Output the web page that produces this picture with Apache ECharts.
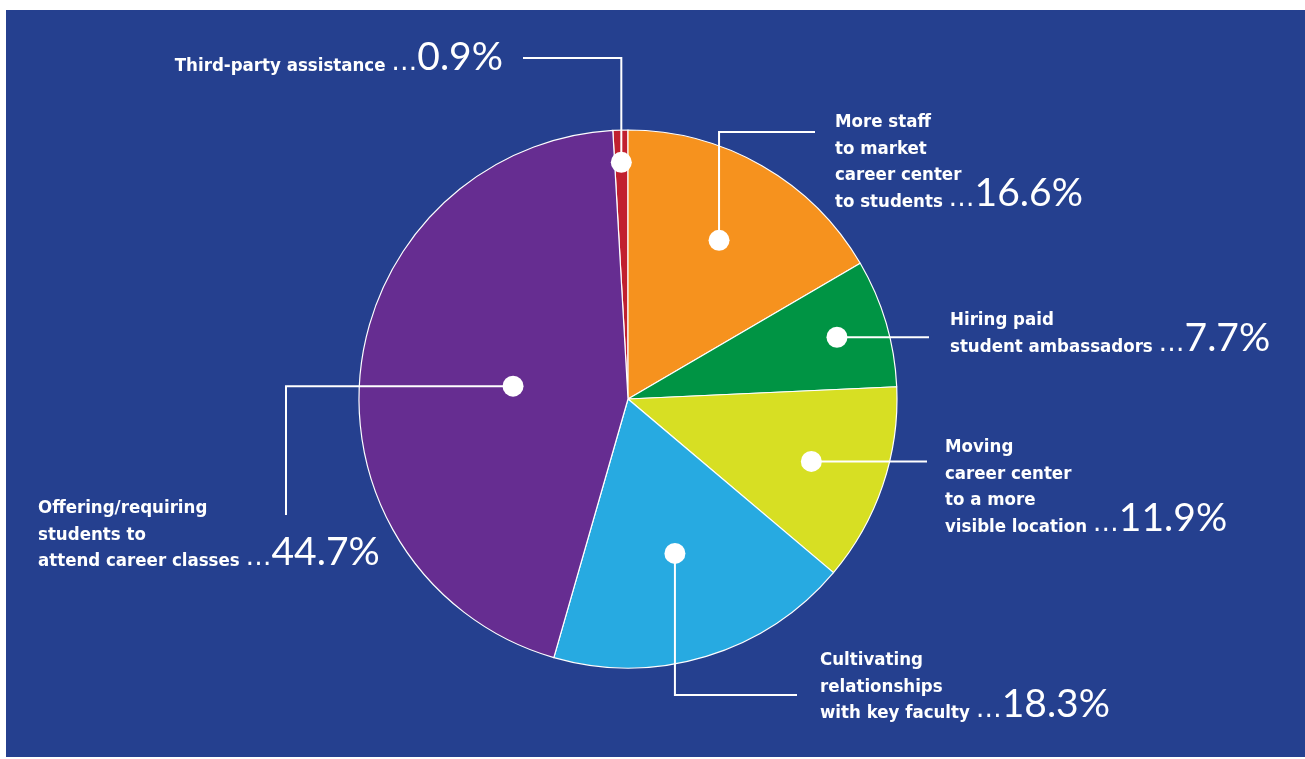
<!DOCTYPE html>
<html>
<head>
<meta charset="utf-8">
<script src="https://cdn.jsdelivr.net/npm/echarts@6/dist/echarts.min.js"></script>
<style>
  html, body { margin: 0; padding: 0; background: #ffffff; }
  #panel { position: absolute; left: 6px; top: 10px; width: 1299px; height: 747px; background: #25408f; }
  #chart { position: absolute; left: 0; top: 0; width: 1305px; height: 759px; }
</style>
</head>
<body>
<div id="panel"></div>
<div id="chart"></div>
<script>
// Survey answers, clockwise from the top of the pie
const categories = [
  'Third-party assistance',
  'More staff\nto market\ncareer center\nto students',
  'Hiring paid\nstudent ambassadors',
  'Moving\ncareer center\nto a more\nvisible location',
  'Cultivating\nrelationships\nwith key faculty',
  'Offering/requiring\nstudents to\nattend career classes'
];
const shares = [0.9, 16.6, 7.7, 11.9, 18.3, 44.7];
const sliceColors = ['#c1202f', '#f6921e', '#009444', '#d7df23', '#27aae1', '#662d91'];

// Layout
const PIE_CENTER = [628, 399];
const PIE_RADIUS = 269;
const total = shares.reduce((a, b) => a + b, 0);
// first slice sits just left of 12 o'clock, the second one starts exactly at 12 o'clock
const START_ANGLE = 90 + shares[0] / total * 360;
// how far out (fraction of the radius) each slice's marker dot sits
const dotRadius = [0.88, 0.68, 0.81, 0.72, 0.60, 0.43];
const labelBoxes = [
  { x: 503, y: 53, align: 'right' },
  { x: 835, y: 109, align: 'left' },
  { x: 950, y: 307, align: 'left' },
  { x: 945, y: 434, align: 'left' },
  { x: 820, y: 647, align: 'left' },
  { x: 38, y: 495, align: 'left' }
];
// leader routes: 'v' = vertical to y then across to endX, 'h' = straight across to endX,
// 'hv' = across to x then down to endY
const leaderRoutes = [
  { via: 'v', y: 58, endX: 523 },
  { via: 'v', y: 132, endX: 815 },
  { via: 'h', endX: 929 },
  { via: 'h', endX: 927 },
  { via: 'v', y: 695, endX: 797 },
  { via: 'hv', x: 286, endY: 515 }
];

const midValues = [];
(function () {
  let c = 0;
  shares.forEach(v => { midValues.push(c + v / 2); c += v; });
})();

// pick a narrow bold face for the answer text when one is available
function hasFont(name) {
  const ctx = document.createElement('canvas').getContext('2d');
  const s = 'Offering/requiring students abcxyz 0123';
  ctx.font = 'bold 40px monospace';
  const w0 = ctx.measureText(s).width;
  ctx.font = 'bold 40px "' + name + '", monospace';
  return ctx.measureText(s).width !== w0;
}
const narrow = hasFont('Liberation Sans Narrow');
const NAME_FONT = narrow ? '"Liberation Sans Narrow", sans-serif' : '"DejaVu Sans Condensed", "DejaVu Sans", sans-serif';
const NAME_SIZE = narrow ? 22.5 : 18.5;
const NAME_SHIFT = narrow ? -1 : 0;
const PCT_FONT = 'Lato, "Open Sans", "Noto Sans", sans-serif';

const chart = echarts.init(document.getElementById('chart'), null, { renderer: 'canvas' });

chart.setOption({
  backgroundColor: 'transparent',
  animation: false,
  polar: { center: PIE_CENTER, radius: PIE_RADIUS },
  angleAxis: {
    type: 'value', min: 0, max: total, startAngle: START_ANGLE, clockwise: true,
    axisLine: { show: false }, axisTick: { show: false }, axisLabel: { show: false }, splitLine: { show: false }
  },
  radiusAxis: {
    type: 'value', min: 0, max: 1,
    axisLine: { show: false }, axisTick: { show: false }, axisLabel: { show: false }, splitLine: { show: false }
  },
  series: [
    {
      type: 'pie',
      center: PIE_CENTER,
      radius: PIE_RADIUS,
      startAngle: START_ANGLE,
      clockwise: true,
      avoidLabelOverlap: false,
      z: 2,
      data: categories.map((name, i) => ({ name: name, value: shares[i], itemStyle: { color: sliceColors[i] } })),
      itemStyle: { borderColor: '#ffffff', borderWidth: 1.2 },
      emphasis: { disabled: true },
      label: {
        show: true,
        position: 'outside',
        color: '#ffffff',
        formatter: function (p) {
          const lines = p.name.split('\n');
          const last = lines.pop();
          let s = lines.map(l => '{n|' + l + '}').join('\n');
          if (lines.length) s += '\n';
          s += '{n|' + last + ' }{d|…}{p|' + p.value.toFixed(1) + '%}';
          return s;
        },
        rich: {
          n: { fontFamily: NAME_FONT, fontWeight: 'bold', fontSize: NAME_SIZE, lineHeight: 26.5, color: '#ffffff' },
          d: { fontFamily: '"DejaVu Sans", sans-serif', fontWeight: 'normal', fontSize: 26, lineHeight: 26.5, color: '#ffffff', padding: [0, 0, 6, 0] },
          p: { fontFamily: PCT_FONT, fontWeight: 'normal', fontSize: 39, lineHeight: 26.5, color: '#ffffff', padding: [0, 0, 17, 0] }
        }
      },
      labelLine: { show: false },
      labelLayout: function (params) {
        const box = labelBoxes[params.dataIndex];
        return { x: box.x, y: box.y + NAME_SHIFT, align: box.align, verticalAlign: 'top' };
      }
    },
    {
      // marker dot inside each slice with its leader line out to the answer text
      type: 'custom',
      coordinateSystem: 'polar',
      z: 5,
      silent: true,
      data: shares.map((v, i) => [dotRadius[i], midValues[i], i]),
      renderItem: function (params, api) {
        const i = api.value(2);
        const d = api.coord([api.value(0), api.value(1)]);
        const route = leaderRoutes[i];
        let pts;
        if (route.via === 'v') pts = [d, [d[0], route.y], [route.endX, route.y]];
        else if (route.via === 'h') pts = [d, [route.endX, d[1]]];
        else pts = [d, [route.x, d[1]], [route.x, route.endY]];
        return {
          type: 'group',
          children: [
            { type: 'polyline', shape: { points: pts }, style: { stroke: '#ffffff', lineWidth: 2, fill: null } },
            { type: 'circle', shape: { cx: d[0], cy: d[1], r: 10.5 }, style: { fill: '#ffffff' } }
          ]
        };
      }
    }
  ]
});
</script>
</body>
</html>
